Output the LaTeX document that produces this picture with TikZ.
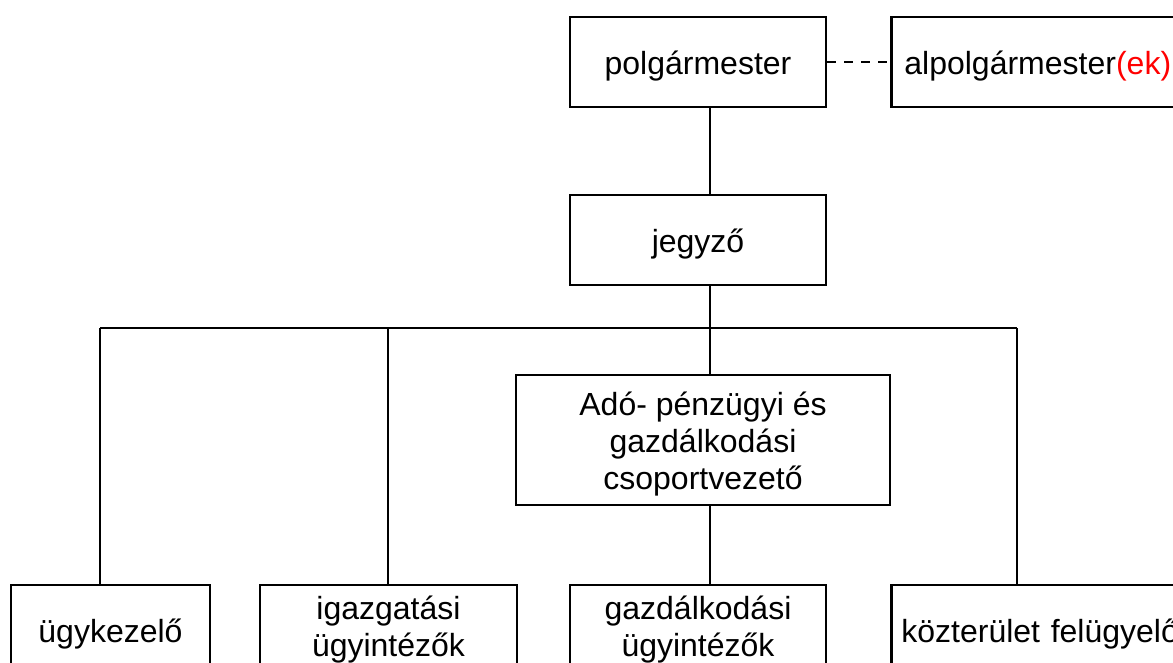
\documentclass[tikz,border=0pt]{standalone}
\usepackage{fontspec}
\setmainfont{Liberation Sans}
\begin{document}
\begin{tikzpicture}[x=1pt,y=-1pt,
  box/.style={draw=black, line width=2.8pt, rectangle, inner sep=0pt, align=center,
    font=\fontsize{32}{37}\selectfont},
  oneline/.style={text height=25pt, text depth=0pt},
  conn/.style={draw=black, line width=2.8pt}]
\path[use as bounding box, clip] (0,0) rectangle (1173,662);
\fill[white] (0,0) rectangle (1173,662);
% top row
\node[box, oneline, minimum width=256pt, minimum height=90pt] (p) at (698,62) {polgármester};
\node[box, oneline, anchor=west, text width=300pt, align=left, inner xsep=13pt, minimum height=90pt] (a) at (890,62) {alpolgármester\textcolor{red}{(ek)}};
\node[box, oneline, minimum width=256pt, minimum height=90pt] (j) at (698,240) {jegyző};
\node[box, minimum width=374pt, minimum height=130pt] (ado) at (703,440) {\rule{0pt}{32pt}Adó- pénzügyi és\\gazdálkodási\\csoportvezető};
% bottom row
\node[box, oneline, minimum width=199pt, minimum height=90pt] (u) at (110.5,630) {ügykezelő};
\node[box, minimum width=257pt, minimum height=90pt] (i) at (388.5,630) {igazgatási\\ügyintézők};
\node[box, minimum width=256pt, minimum height=90pt] (g) at (698,630) {gazdálkodási\\ügyintézők};
\node[box, oneline, anchor=west, text width=300pt, align=left, inner xsep=10pt, minimum height=90pt] (k) at (890,630) {közterület felügyelő};
% connectors
\coordinate (jb) at (710,285);
\coordinate (bus) at (710,328);
\coordinate (bL) at (100,328);
\coordinate (bI) at (388,328);
\coordinate (bR) at (1017,328);
\draw[conn] (p.south -| jb) -- (j.north -| jb);
\draw[conn] (j.south -| jb) -- (bus);
\draw[conn] (bL) -- (bR);
\draw[conn] (bL) -- (bL |- u.north);
\draw[conn] (bI) -- (bI |- i.north);
\draw[conn] (bus) -- (ado.north -| bus);
\draw[conn] (bR) -- (bR |- k.north);
\draw[conn] (ado.south -| bus) -- (g.north -| bus);
\draw[conn, line width=2pt, dash pattern=on 9pt off 8pt] (p.east) -- (a.west);
\end{tikzpicture}
\end{document}
